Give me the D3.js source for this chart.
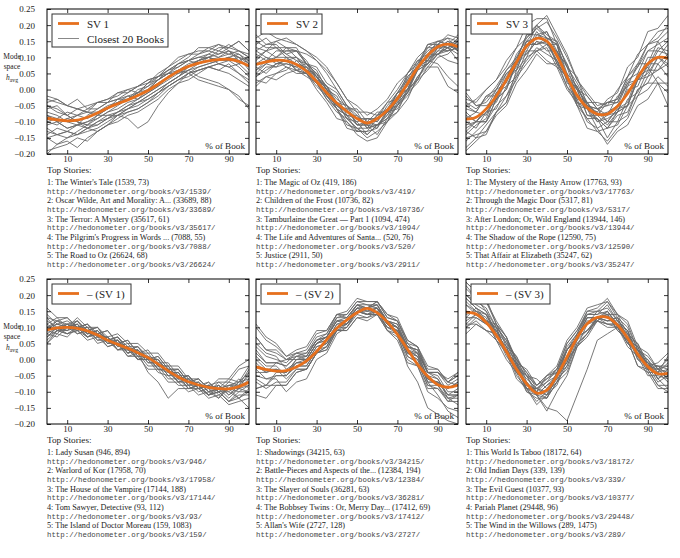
<!DOCTYPE html>
<html>
<head>
<meta charset="utf-8">
<script src="https://cdn.jsdelivr.net/npm/d3@7"></script>
<style>
  body { margin: 0; background: #fff; }
  svg text { font-family: "Liberation Serif", "Times New Roman", serif; fill: #222; }
  .url { font-family: "Liberation Mono", "DejaVu Sans Mono", monospace; fill: #444; }
</style>
</head>
<body>
<div id="chart"></div>
<script>
// % of book at which every series is sampled
let pct = [0, 5, 10, 15, 20, 25, 30, 35, 40, 45, 50, 55, 60, 65, 70, 75, 80, 85, 90, 95, 100];
let xTicks = [10, 30, 50, 70, 90];
let yTicks = [-0.20, -0.15, -0.10, -0.05, 0.00, 0.05, 0.10, 0.15, 0.20, 0.25];

// singular vector modes (h_avg)
let sv1 = [-0.089, -0.094, -0.097, -0.095, -0.086, -0.073, -0.057, -0.044, -0.032, -0.018, -0.003, 0.017, 0.038, 0.057, 0.072, 0.082, 0.089, 0.093, 0.094, 0.087, 0.073];
let sv2 = [0.078, 0.086, 0.091, 0.089, 0.078, 0.057, 0.025, -0.010, -0.042, -0.068, -0.090, -0.104, -0.090, -0.064, -0.028, 0.018, 0.068, 0.106, 0.133, 0.141, 0.133];
let sv3 = [-0.092, -0.086, -0.060, -0.020, 0.030, 0.085, 0.135, 0.159, 0.150, 0.105, 0.040, -0.018, -0.056, -0.076, -0.076, -0.052, -0.012, 0.038, 0.080, 0.100, 0.097];
let negSv1 = [0.092, 0.098, 0.100, 0.097, 0.089, 0.076, 0.060, 0.047, 0.035, 0.021, 0.006, -0.014, -0.035, -0.054, -0.069, -0.079, -0.086, -0.090, -0.091, -0.084, -0.070];
let negSv2 = [-0.023, -0.031, -0.036, -0.034, -0.023, -0.004, 0.025, 0.062, 0.097, 0.123, 0.145, 0.159, 0.145, 0.117, 0.078, 0.032, -0.015, -0.052, -0.078, -0.086, -0.079];
let negSv3 = [0.147, 0.141, 0.115, 0.075, 0.025, -0.030, -0.075, -0.104, -0.095, -0.050, 0.008, 0.068, 0.111, 0.131, 0.131, 0.107, 0.067, 0.017, -0.022, -0.044, -0.043];

// closest 20 books to each mode, in hundredths of h_avg
let books1 = [
  [-6,-5,-8,-6,-7,-4,-4,-1,-1,1,2,5,7,9,11,11,13,12,14,12,10],
  [-13,-14,-13,-14,-12,-11,-9,-8,-6,-5,-3,-1,1,3,5,6,7,8,7,8,5],
  [-3,-4,-5,-3,-6,-4,-3,-2,0,-1,2,3,6,7,9,10,10,12,11,12,11],
  [-15,-17,-16,-18,-15,-13,-11,-9,-7,-6,-4,-2,1,3,4,6,7,6,8,5,3],
  [-8,-9,-7,-8,-6,-6,-4,-3,-3,0,1,4,7,10,11,12,12,14,13,15,12],
  [-19,-18,-17,-15,-16,-13,-11,-10,-8,-7,-5,-3,0,2,3,5,7,6,5,3,1],
  [-4,-3,-5,-6,-5,-4,-3,-1,0,1,3,4,5,5,6,4,3,2,0,-3,-5],
  [-11,-10,-12,-11,-10,-9,-7,-6,-4,-3,-1,1,4,6,8,9,10,9,10,9,7],
  [-10,-11,-9,-10,-11,-8,-6,-4,-3,-1,1,3,5,8,10,13,13,14,12,11,9],
  [-7,-8,-10,-11,-12,-10,-8,-8,-9,-12,-10,-5,-1,2,5,7,8,9,10,8,9],
  [-14,-12,-13,-11,-10,-8,-6,-3,-2,-3,-1,1,3,5,7,9,10,8,7,5,2],
  [-5,-7,-8,-10,-11,-11,-9,-7,-5,-4,-2,0,2,4,6,8,9,10,11,10,9],
  [-20,-17,-15,-14,-12,-10,-9,-7,-6,-4,-3,-1,1,3,5,6,7,8,9,7,4],
  [-8,-10,-12,-11,-8,-6,-4,-3,-1,1,3,4,6,8,9,11,12,11,13,12,10],
  [-5,-6,-8,-10,-12,-13,-11,-8,-6,-4,-2,0,2,4,7,9,11,13,13,15,12],
  [-10,-9,-10,-8,-7,-7,-6,-4,-3,-2,0,3,5,6,5,3,2,1,0,-2,-6],
  [-15,-14,-15,-13,-11,-9,-7,-5,-3,-1,0,2,4,6,7,9,10,9,9,10,8],
  [-2,-3,-5,-6,-7,-8,-8,-7,-5,-3,0,3,5,7,9,10,11,10,12,9,10],
  [-12,-14,-13,-14,-13,-12,-10,-8,-7,-6,-4,-1,2,4,6,7,8,9,10,11,8],
  [-8,-10,-9,-8,-9,-7,-5,-4,-2,-1,2,4,6,8,9,8,10,11,12,10,6]
];
let books2 = [
  [12,14,15,16,14,12,9,5,0,-5,-8,-11,-11,-8,-3,2,8,12,14,16,15],
  [4,6,8,8,7,5,2,-3,-7,-9,-12,-12,-11,-9,-5,-1,4,8,11,13,11],
  [16,18,16,15,14,12,10,7,2,-3,-7,-7,-8,-4,0,5,10,13,15,14,12],
  [7,5,8,9,10,7,4,0,-4,-9,-12,-15,-13,-10,-5,-2,3,6,10,11,14],
  [2,4,3,5,6,5,2,-2,-5,-8,-9,-11,-8,-6,-1,3,9,11,15,14,17],
  [10,12,13,13,10,8,4,0,-6,-10,-14,-16,-15,-10,-7,-3,4,7,11,12,13],
  [6,9,10,12,12,11,9,6,2,-3,-5,-8,-6,-3,2,5,9,9,8,4,1],
  [12,10,9,7,6,4,2,-3,-6,-11,-12,-14,-11,-8,-3,0,7,9,13,13,15],
  [5,8,10,13,12,9,4,0,-5,-7,-10,-9,-10,-6,-5,0,3,9,12,15,14],
  [14,16,13,11,9,8,5,1,-3,-5,-9,-9,-10,-5,-1,4,7,14,14,17,16],
  [3,2,5,6,9,6,4,-2,-6,-12,-13,-13,-9,-7,-1,1,7,8,11,9,8],
  [9,12,10,10,6,5,0,-4,-9,-10,-13,-13,-12,-6,-4,4,7,13,13,15,12],
  [15,13,13,10,10,6,5,1,-1,-6,-6,-10,-7,-7,-1,0,6,8,13,12,13],
  [6,8,7,10,8,7,4,1,-4,-5,-11,-10,-11,-7,-6,-1,2,7,7,1,-1],
  [11,9,12,12,12,8,5,-2,-4,-9,-10,-14,-11,-9,-3,-1,7,10,14,13,16],
  [1,4,5,7,5,5,1,-2,-6,-8,-13,-9,-9,-4,-3,5,8,14,15,16,12],
  [13,12,15,13,13,8,7,2,0,-5,-7,-12,-11,-10,-4,-1,6,8,12,12,15],
  [8,10,8,9,6,7,2,0,-6,-8,-11,-11,-12,-7,-5,3,6,11,11,13,9],
  [17,14,14,11,12,8,6,0,-2,-8,-8,-12,-8,-7,-2,0,7,9,14,13,14],
  [4,7,7,8,7,8,3,1,-5,-6,-11,-11,-14,-9,-7,0,3,10,11,14,12]
];
let books3 = [
  [-4,-6,-3,1,6,10,16,19,21,16,10,3,-2,-6,-5,-4,2,7,12,14,16],
  [-13,-15,-11,-7,-2,3,10,12,14,9,3,-5,-9,-13,-12,-11,-5,-2,4,6,8],
  [-5,-3,0,3,7,13,16,20,17,15,7,2,-4,-4,-5,0,4,11,14,18,19],
  [-16,-13,-10,-5,-2,5,9,13,11,9,1,-5,-12,-13,-16,-12,-9,-2,0,4,1],
  [-2,-5,-5,-3,3,7,15,16,18,12,7,-2,-4,-10,-9,-7,1,3,10,10,14],
  [-10,-12,-7,-3,4,9,17,20,23,17,11,3,-1,-5,-4,-3,4,8,14,16,20],
  [-19,-16,-13,-7,-4,4,8,12,9,7,0,-4,-9,-9,-12,-8,-7,0,2,2,-5],
  [-8,-10,-6,-4,3,6,14,14,15,9,5,-4,-6,-10,-8,-7,0,1,8,8,11],
  [-3,-4,0,3,9,13,20,22,22,14,8,0,-4,-8,-4,-3,4,7,14,15,18],
  [-12,-10,-6,0,2,10,11,15,14,14,5,1,-6,-7,-10,-6,-5,3,5,10,7],
  [-15,-14,-13,-8,-5,2,6,11,8,8,1,-3,-10,-12,-17,-13,-11,-5,-3,2,2],
  [-6,-7,-2,0,6,9,17,17,18,11,8,0,-2,-6,-4,-4,3,5,12,12,15],
  [-11,-10,-10,-3,0,9,12,18,14,12,3,0,-8,-9,-12,-7,-5,4,6,12,11],
  [-1,-5,-4,0,5,8,15,14,15,8,4,-4,-5,-7,-3,-1,7,10,18,19,23],
  [-14,-11,-9,-1,3,11,15,19,16,14,4,0,-8,-8,-11,-7,-5,3,4,10,8],
  [-7,-10,-7,-6,1,4,12,12,13,7,4,-3,-4,-8,-7,-5,2,3,7,2,-1],
  [-18,-15,-14,-7,-4,6,10,17,16,15,7,4,-5,-6,-10,-6,-4,5,7,13,12],
  [-5,-7,-2,-2,5,6,14,14,16,8,5,-5,-6,-12,-10,-10,-3,-1,6,6,10],
  [-9,-7,-8,-1,1,8,13,20,16,14,2,1,-5,-6,-8,-2,1,8,8,15,10],
  [-13,-10,-10,-3,0,8,11,15,12,12,4,1,-6,-9,-15,-10,-8,0,2,8,4]
];
let books4 = [
  [11,13,10,12,8,9,6,7,3,4,0,1,-3,-3,-7,-6,-9,-8,-11,-9,-8],
  [7,10,9,12,9,10,6,7,4,4,1,0,-4,-5,-9,-8,-11,-10,-13,-10,-10],
  [16,13,13,10,11,7,7,3,4,0,1,-3,-3,-6,-6,-9,-8,-9,-6,-7,-4],
  [6,9,8,9,7,8,4,5,1,2,-2,-2,-6,-6,-9,-9,-12,-11,-14,-13,-12],
  [10,11,10,11,7,8,5,6,3,3,0,0,-4,-3,-7,-6,-9,-6,-6,-2,0],
  [5,8,7,10,8,9,6,6,2,3,-1,-1,-5,-5,-9,-8,-11,-9,-12,-9,-10],
  [9,12,11,12,9,10,7,8,5,5,2,2,-2,-2,-6,-6,-9,-8,-10,-7,-6],
  [13,12,13,10,10,7,7,4,4,1,1,-3,-4,-7,-6,-9,-8,-11,-9,-12,-10],
  [8,7,10,9,10,6,7,3,4,0,0,-4,-5,-8,-8,-11,-10,-12,-9,-10,-8],
  [11,9,11,8,9,5,6,3,3,0,0,-3,-3,-7,-6,-9,-8,-7,-7,-3,-2],
  [7,10,9,11,8,9,6,7,3,2,-4,-7,-12,-9,-9,-8,-11,-10,-13,-12,-15],
  [14,11,12,10,11,8,9,5,6,2,2,-2,-2,-6,-5,-9,-7,-10,-7,-8,-5],
  [9,11,10,13,10,10,6,6,2,3,0,0,-4,-4,-8,-8,-11,-8,-11,-8,-7],
  [8,10,8,9,6,7,4,5,2,3,0,1,-3,-3,-7,-7,-10,-9,-8,-9,-6],
  [12,10,11,9,10,7,7,4,5,1,1,-2,-3,-7,-7,-10,-9,-12,-8,-8,-3],
  [5,9,8,10,7,9,5,5,1,1,-3,-3,-7,-7,-10,-9,-11,-10,-13,-11,-11],
  [10,12,10,11,8,8,5,6,3,4,0,0,-4,-4,-8,-7,-10,-7,-9,-6,-9],
  [13,9,10,8,9,6,6,3,4,0,1,-2,-2,-6,-5,-8,-7,-10,-9,-9,-4],
  [9,8,11,10,11,8,9,5,6,2,3,-1,-1,-5,-5,-9,-8,-10,-10,-12,-9],
  [7,9,9,10,7,8,5,6,2,3,-1,-1,-5,-4,-8,-7,-10,-9,-8,-7,-2]
];
let books5 = [
  [4,1,0,-1,2,3,8,9,14,14,18,18,18,13,12,6,4,-2,-3,-7,-5],
  [-7,-9,-7,-7,-3,-3,2,3,9,10,15,14,14,9,7,0,-2,-9,-9,-12,-11],
  [10,6,4,1,3,4,9,9,14,13,17,16,16,12,10,4,3,-4,-4,-6,-4],
  [-3,-6,-6,-10,-7,-6,0,2,8,10,15,16,18,14,12,5,2,-6,-8,-13,-13],
  [0,-3,-3,-4,0,1,6,7,12,12,16,14,14,9,8,1,-1,-8,-9,-13,-11],
  [-11,-12,-8,-8,-4,-3,2,4,10,11,15,14,15,11,10,3,1,-7,-11,-16,-18],
  [3,-1,-1,-2,1,2,7,8,13,13,17,17,17,11,8,2,0,-6,-7,-9,-7],
  [-5,-6,-5,-5,-2,-2,3,5,11,12,16,16,17,12,10,2,1,-5,-6,-11,-9],
  [7,3,2,0,0,0,5,6,10,10,14,13,14,10,9,2,2,-4,-4,-7,-4],
  [-9,-8,-4,-4,-1,0,5,7,13,14,18,17,16,9,6,-1,-2,-10,-12,-15,-16],
  [1,-2,-2,-5,-2,-2,3,4,9,9,13,12,14,10,9,3,2,-4,-4,-7,-5],
  [-2,-4,-1,0,2,2,6,7,12,13,17,15,16,11,8,-2,-7,-15,-17,-19,-20],
  [5,2,1,-3,-1,-1,4,5,10,11,15,15,16,12,11,4,3,-4,-5,-10,-10],
  [-6,-8,-8,-8,-4,-3,2,4,10,12,17,16,17,12,10,3,1,-7,-7,-11,-11],
  [2,-1,-1,-2,1,1,6,8,14,15,19,18,18,13,12,5,4,-3,-3,-7,-8],
  [-9,-8,-5,-5,-1,-1,4,5,9,9,13,13,15,11,10,4,3,-4,-4,-8,-6],
  [7,3,3,0,1,0,5,7,12,12,16,16,18,14,13,6,4,-4,-6,-12,-14],
  [-4,-4,-3,-6,-3,-3,2,3,9,11,16,15,15,10,8,1,-1,-8,-8,-12,-12],
  [11,7,5,1,2,1,6,7,12,11,15,14,15,11,9,2,0,-7,-7,-9,-7],
  [-1,-4,-3,-4,0,0,5,6,11,11,15,14,16,12,11,4,2,-6,-7,-11,-11]
];
let books6 = [
  [20,18,16,10,6,-2,-6,-9,-6,-3,5,9,15,15,16,12,9,2,-1,-6,-4],
  [11,11,9,6,0,-4,-10,-12,-12,-7,-2,5,8,12,11,10,5,2,-4,-4,-3],
  [24,21,18,12,7,0,-4,-8,-6,-4,4,8,14,14,15,11,8,1,-2,-7,-5],
  [10,12,9,8,1,-3,-9,-11,-15,-16,-19,-11,-3,6,8,10,4,1,-5,-5,-6],
  [17,15,14,9,5,-2,-5,-8,-5,-2,6,10,16,17,18,13,10,3,1,-3,0],
  [13,13,11,9,3,0,-8,-10,-12,-7,-4,4,7,12,11,11,5,3,-3,-2,-2],
  [19,16,14,8,4,-4,-7,-11,-8,-6,3,8,15,16,19,14,11,3,0,-6,-9],
  [10,13,11,11,4,1,-5,-6,-9,-5,-2,6,9,13,12,13,7,5,-1,-2,-5],
  [23,19,15,8,3,-5,-9,-13,-10,-7,1,6,13,13,14,9,6,-2,-4,-9,-9],
  [12,14,11,9,2,-2,-9,-9,-10,-4,-1,7,9,13,11,11,6,4,-2,-2,-3],
  [18,15,13,6,3,-4,-7,-10,-5,-3,5,9,14,14,17,12,9,1,-1,-6,-3],
  [8,11,9,8,2,-1,-8,-9,-11,-6,-3,5,8,13,12,13,6,4,-3,-4,-7],
  [20,17,15,10,6,0,-4,-9,-7,-3,3,7,13,13,15,10,7,0,-1,-4,1],
  [14,15,12,11,5,1,-7,-11,-16,-10,-5,4,8,13,12,12,6,3,-3,-3,-4],
  [22,19,18,11,7,-1,-5,-11,-8,-5,3,7,14,15,18,14,12,4,2,-3,-2],
  [11,14,11,10,2,-1,-9,-10,-11,-4,0,7,9,12,10,10,5,3,-2,-1,2],
  [17,14,12,6,2,-6,-9,-14,-11,-8,0,4,11,12,15,11,9,0,-3,-8,-10],
  [24,21,19,11,7,-1,-3,-8,-5,-4,3,6,12,12,14,10,8,1,0,-4,-1],
  [13,16,12,10,2,-1,-10,-11,-12,-5,-1,8,11,15,14,14,8,5,-2,-3,-6],
  [19,16,14,7,4,-3,-5,-10,-7,-5,3,7,13,13,14,9,6,-2,-3,-8,-8]
];

// top stories: [title, book id, second figure shown in brackets]
let stories1 = [["The Winter's Tale", 1539, 73], ["Oscar Wilde, Art and Morality: A...", 33689, 88], ["The Terror: A Mystery", 35617, 61], ["The Pilgrim's Progress in Words ...", 7088, 55], ["The Road to Oz", 26624, 68]];
let stories2 = [["The Magic of Oz", 419, 186], ["Children of the Frost", 10736, 82], ["Tamburlaine the Great \u2014 Part 1", 1094, 474], ["The Life and Adventures of Santa...", 520, 76], ["Justice", 2911, 50]];
let stories3 = [["The Mystery of the Hasty Arrow", 17763, 93], ["Through the Magic Door", 5317, 81], ["After London; Or, Wild England", 13944, 146], ["The Shadow of the Rope", 12590, 75], ["That Affair at Elizabeth", 35247, 62]];
let stories4 = [["Lady Susan", 946, 894], ["Warlord of Kor", 17958, 70], ["The House of the Vampire", 17144, 188], ["Tom Sawyer, Detective", 93, 112], ["The Island of Doctor Moreau", 159, 1083]];
let stories5 = [["Shadowings", 34215, 63], ["Battle-Pieces and Aspects of the...", 12384, 194], ["The Slayer of Souls", 36281, 63], ["The Bobbsey Twins : Or, Merry Day...", 17412, 69], ["Allan's Wife", 2727, 128]];
let stories6 = [["This World Is Taboo", 18172, 64], ["Old Indian Days", 339, 139], ["The Evil Guest", 10377, 93], ["Pariah Planet", 29448, 96], ["The Wind in the Willows", 289, 1475]];

let panels = [
  {col: 0, row: 0, mode: sv1, books: books1, label: "SV 1", stories: stories1},
  {col: 1, row: 0, mode: sv2, books: books2, label: "SV 2", stories: stories2},
  {col: 2, row: 0, mode: sv3, books: books3, label: "SV 3", stories: stories3},
  {col: 0, row: 1, mode: negSv1, books: books4, label: "\u2013 (SV 1)", stories: stories4},
  {col: 1, row: 1, mode: negSv2, books: books5, label: "\u2013 (SV 2)", stories: stories5},
  {col: 2, row: 1, mode: negSv3, books: books6, label: "\u2013 (SV 3)", stories: stories6}
];

let orange = "#e6701e";
let grey = "#6a6a6a";
let colX = [47, 256, 466];
let rowY = [9, 279];
let width = 202;
let height = 145;

let svg = d3.select("#chart")
  .append("svg")
  .attr("width", 680)
  .attr("height", 558);

let x = d3.scaleLinear().domain([0, 100]).range([0, width]);
let y = d3.scaleLinear().domain([-0.20, 0.25]).range([height, 0]);

svg.append("defs").append("clipPath")
  .attr("id", "plotClip")
  .append("rect")
  .attr("width", width)
  .attr("height", height);

let bookLine = d3.line()
  .x((d, i) => x(pct[i]))
  .y(d => y(d / 100));
let modeLine = d3.line()
  .x((d, i) => x(pct[i]))
  .y(d => y(d))
  .curve(d3.curveCatmullRom);

panels.forEach(p => {
  let g = svg.append("g")
    .attr("transform", "translate(" + colX[p.col] + "," + rowY[p.row] + ")");

  g.append("text")
    .attr("x", width - 4)
    .attr("y", height - 5)
    .attr("text-anchor", "end")
    .style("font-size", "9.2px")
    .text("% of Book");

  let plot = g.append("g").attr("clip-path", "url(#plotClip)");
  plot.selectAll(".book")
    .data(p.books)
    .enter().append("path")
    .attr("class", "book")
    .attr("d", bookLine)
    .attr("fill", "none")
    .attr("stroke", grey)
    .attr("stroke-width", 0.9)
    .attr("stroke-linejoin", "round");
  plot.append("path")
    .datum(p.mode)
    .attr("d", modeLine)
    .attr("fill", "none")
    .attr("stroke", orange)
    .attr("stroke-width", 2.8);

  // axes, ticks pointing inward on all four sides
  g.append("g")
    .call(d3.axisLeft(y).tickValues(yTicks).tickSize(-4).tickPadding(12)
      .tickFormat(p.col === 0 ? d3.format(".2f") : ""));
  g.append("g")
    .attr("transform", "translate(" + width + ",0)")
    .call(d3.axisRight(y).tickValues(yTicks).tickSize(-4).tickFormat(""));
  g.append("g")
    .call(d3.axisTop(x).tickValues(xTicks).tickSize(-4).tickFormat(""));
  g.append("g")
    .attr("transform", "translate(0," + height + ")")
    .call(d3.axisBottom(x).tickValues(xTicks).tickSize(-4).tickPadding(2));
  g.selectAll(".domain").remove();
  g.selectAll(".tick line").attr("stroke", "#000").attr("stroke-width", 0.8);
  g.selectAll(".tick text")
    .style("font-family", "'Liberation Serif', serif")
    .style("font-size", "9px")
    .attr("fill", "#222");

  g.append("rect")
    .attr("width", width)
    .attr("height", height)
    .attr("fill", "none")
    .attr("stroke", "#000")
    .attr("stroke-width", 1);

  // legend
  let twoRows = p.col === 0 && p.row === 0;
  let lg = g.append("g").attr("transform", "translate(5,5)");
  let labelW = p.label.length > 5 ? 38 : 20;
  lg.append("rect")
    .attr("width", twoRows ? 116 : 35 + labelW + 6)
    .attr("height", twoRows ? 33 : 20)
    .attr("fill", "#fff")
    .attr("stroke", "#333")
    .attr("stroke-width", 1);
  lg.append("line")
    .attr("x1", 6).attr("x2", 27).attr("y1", 9.5).attr("y2", 9.5)
    .attr("stroke", orange).attr("stroke-width", 2.8);
  lg.append("text")
    .attr("x", 35).attr("y", 13.5)
    .style("font-size", "11px")
    .text(p.label);
  if (twoRows) {
    lg.append("line")
      .attr("x1", 6).attr("x2", 27).attr("y1", 24.5).attr("y2", 24.5)
      .attr("stroke", "#888").attr("stroke-width", 1);
    lg.append("text")
      .attr("x", 35).attr("y", 28.5)
      .style("font-size", "11px")
      .text("Closest 20 Books");
  }

  if (p.col === 0) {
    let yl = g.append("text")
      .attr("text-anchor", "middle")
      .style("font-size", "7.5px");
    yl.append("tspan").attr("x", -35).attr("y", 50).text("Mode");
    yl.append("tspan").attr("x", -35).attr("y", 60).text("space");
    let h = yl.append("tspan").attr("x", -35).attr("y", 71);
    h.append("tspan").style("font-style", "italic").text("h");
    h.append("tspan").attr("dy", 2).style("font-size", "5.8px").text("avg");
  }

  // top stories list
  let ts = g.append("g").attr("transform", "translate(0," + (height + 19) + ")");
  ts.append("text")
    .style("font-size", "9.2px")
    .text("Top Stories:");
  p.stories.forEach((s, i) => {
    ts.append("text")
      .attr("y", 12 + i * 18.25)
      .style("font-size", "8.2px")
      .text((i + 1) + ": " + s[0] + " (" + s[1] + ", " + s[2] + ")");
    ts.append("text")
      .attr("class", "url")
      .attr("y", 20.8 + i * 18.25)
      .style("font-size", "7.4px")
      .text("http://hedonometer.org/books/v3/" + s[1] + "/");
  });
});
</script>
</body>
</html>
